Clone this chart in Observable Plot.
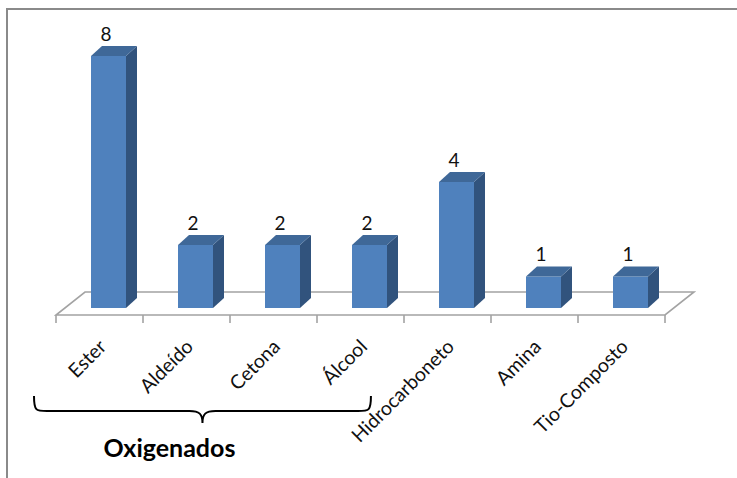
<!DOCTYPE html>
<html><head><meta charset="utf-8">
<script src="https://cdn.jsdelivr.net/npm/d3@7"></script>
<script src="https://cdn.jsdelivr.net/npm/@observablehq/plot@0.6"></script>
<style>
html,body{margin:0;padding:0;background:#fff;}
#wrap{position:relative;width:737px;height:478px;overflow:hidden;background:#fff;}
#frame{position:absolute;left:5.5px;top:7.5px;width:800px;height:600px;border-left:2px solid #8a8a8a;border-top:2px solid #8a8a8a;pointer-events:none;}
</style></head><body>
<div id="wrap"><div id="frame"></div></div>
<script>
// ---- data ----
const categories = ["Ester", "Aldeído", "Cetona", "Álcool", "Hidrocarboneto", "Amina", "Tio-Composto"];
const counts = [8, 2, 2, 2, 4, 1, 1];
const groupLabel = "Oxigenados";
const groupFrom = "Ester";
const groupTo = "Álcool";

const data = categories.map((c, i) => ({category: c, count: counts[i]}));

// ---- styles ----
const FRONT = "#4f81bd", TOP = "#3f6898", SIDE = "#31537d";
const FLOOR = "#a3a3a3";
const FONT = "Lato, 'Open Sans', sans-serif";
const INSET_L = 35, INSET_R = 17;      // bar inset inside band
const DEPTH_X = 11, DEPTH_Y = -10;      // bar 3D depth
const FLOOR_DX = 29, FLOOR_FRONT = 7, FLOOR_BACK = -16;

function bandwidthOf(sx) {
  if (typeof sx.bandwidth === "function") return sx.bandwidth();
  if (typeof sx.bandwidth === "number") return sx.bandwidth;
  return sx(categories[1]) - sx(categories[0]);
}

// floor + boundary ticks
function floorMark(index, scales) {
  const sx = scales.x, sy = scales.y;
  const bw = bandwidthOf(sx);
  const x0 = sx(categories[0]);
  const x1 = sx(categories[categories.length - 1]) + bw;
  const yb = sy(0);
  const g = d3.create("svg:g");
  const yf = yb + FLOOR_FRONT, yk = yb + FLOOR_BACK;
  g.append("path")
    .attr("d", `M${x0},${yf}L${x1},${yf}L${x1 + FLOOR_DX},${yk}L${x0 + FLOOR_DX},${yk}Z`)
    .attr("fill", "none").attr("stroke", FLOOR).attr("stroke-width", 1.6);
  const bounds = categories.map(c => sx(c)).concat([x1]);
  g.selectAll("line.t").data(bounds).join("line")
    .attr("x1", d => d).attr("x2", d => d)
    .attr("y1", yf).attr("y2", yf + 8)
    .attr("stroke", FLOOR).attr("stroke-width", 1.6);
  return g.node();
}

// side + top faces of bars
function barFaces(index, scales) {
  const sx = scales.x, sy = scales.y;
  const bw = bandwidthOf(sx);
  const g = d3.create("svg:g");
  for (const d of data) {
    const a = sx(d.category) + INSET_L, b = sx(d.category) + bw - INSET_R;
    const yt = sy(d.count), yb = sy(0);
    g.append("path")
      .attr("d", `M${b},${yb}L${b},${yt}L${b + DEPTH_X},${yt + DEPTH_Y}L${b + DEPTH_X},${yb + DEPTH_Y}Z`)
      .attr("fill", SIDE);
    g.append("path")
      .attr("d", `M${a},${yt}L${a + DEPTH_X},${yt + DEPTH_Y}L${b + DEPTH_X},${yt + DEPTH_Y}L${b},${yt}Z`)
      .attr("fill", TOP);
  }
  return g.node();
}

// brace grouping the oxygenated categories
function braceMark(index, scales) {
  const sx = scales.x, sy = scales.y;
  const bw = bandwidthOf(sx);
  const L = sx(groupFrom) - 22, R = sx(groupTo) + bw * 0.62;
  const M = (L + R) / 2;
  const yb = sy(0);
  const yTop = yb + 88, yMid = yb + 103, yTip = yb + 115;
  const r = 13;
  const d = `M${L},${yTop} C${L},${yMid} ${L + 2},${yMid} ${L + r},${yMid}` +
            ` L${M - r},${yMid} C${M - 3},${yMid} ${M},${yMid + 3} ${M},${yTip}` +
            ` C${M},${yMid + 3} ${M + 3},${yMid} ${M + r},${yMid}` +
            ` L${R - r},${yMid} C${R - 2},${yMid} ${R},${yMid} ${R},${yTop}`;
  const g = d3.create("svg:g");
  g.append("path").attr("d", d).attr("fill", "none").attr("stroke", "#000").attr("stroke-width", 2);
  g.append("text").attr("x", M - 33).attr("y", yb + 149)
    .attr("text-anchor", "middle").attr("font-weight", "bold")
    .attr("font-size", 25).attr("font-family", FONT).attr("fill", "#000")
    .text(groupLabel);
  return g.node();
}

const chart = Plot.plot({
  width: 737,
  height: 478,
  marginTop: 56,
  marginBottom: 170,
  marginLeft: 55,
  marginRight: 72,
  x: {type: "band", domain: categories, padding: 0},
  y: {domain: [0, d3.max(counts)], axis: null},
  style: {background: "transparent", fontFamily: FONT, color: "#111", overflow: "visible"},
  marks: [
    floorMark,
    Plot.barY(data, {x: "category", y: "count", fill: FRONT, insetLeft: INSET_L, insetRight: INSET_R}),
    barFaces,
    Plot.text(data, {x: "category", y: "count", text: d => String(d.count), dx: 6, dy: -16,
      lineAnchor: "bottom", fontSize: 19, fill: "#111"}),
    Plot.axisX({tickRotate: -45, tickSize: 0, tickPadding: 35, dx: 3, fontSize: 19.5, label: null}),
    braceMark
  ]
});
document.getElementById("wrap").appendChild(chart);
</script>
</body></html>
